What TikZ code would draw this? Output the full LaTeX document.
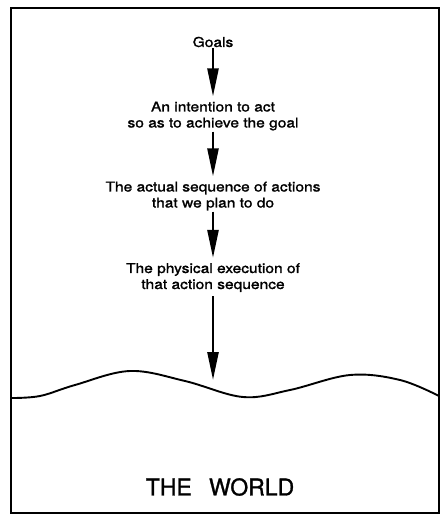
\documentclass[tikz,border=0pt]{standalone}
\usepackage{fontspec}
\setmainfont{TeX Gyre Heros}
\newfontfamily\lblfont[FakeStretch=1.15,FakeBold=1.4]{TeX Gyre Heros}
\newfontfamily\worldfont[FakeBold=1.2]{TeX Gyre Heros}
\usetikzlibrary{arrows.meta}
\begin{document}
\begin{tikzpicture}[x=1pt,y=-1pt,
  lbl/.style={align=center,font=\lblfont\fontsize{13.5}{16}\selectfont,inner sep=1pt},
  flow/.style={line width=2.5pt,shorten >=4pt,-{Triangle[length=28pt,width=11pt]}}]
\useasboundingbox (0,0) rectangle (446,517);
\draw[line width=1.5pt] (11,8) rectangle (439,513);
\node[lbl] (goals) at (213,42) {Goals};
\node[lbl] (intent) at (213,116) {An intention to act\\so as to achieve the goal};
\node[lbl] (actions) at (213,196) {The actual sequence of actions\\that we plan to do};
\node[lbl] (phys) at (213,277.5) {The physical execution of\\that action sequence};
\coordinate (ground) at (213,384);
\draw[flow] (goals) -- (intent);
\draw[flow] (intent) -- (actions);
\draw[flow] (actions) -- (phys);
\draw[flow] (phys.south) ++(0,3) -- (ground);
\draw[line width=1.9pt] plot[smooth,tension=0.6] coordinates {(11,398) (40,396) (75,385) (130,371) (185,381) (243,397) (290,390) (350,375) (400,380) (439,396)};
\node[font=\worldfont\fontsize{23}{25}\selectfont] (world) at (220,487) {THE\hspace{0.75em}WORLD};
\end{tikzpicture}
\end{document}
